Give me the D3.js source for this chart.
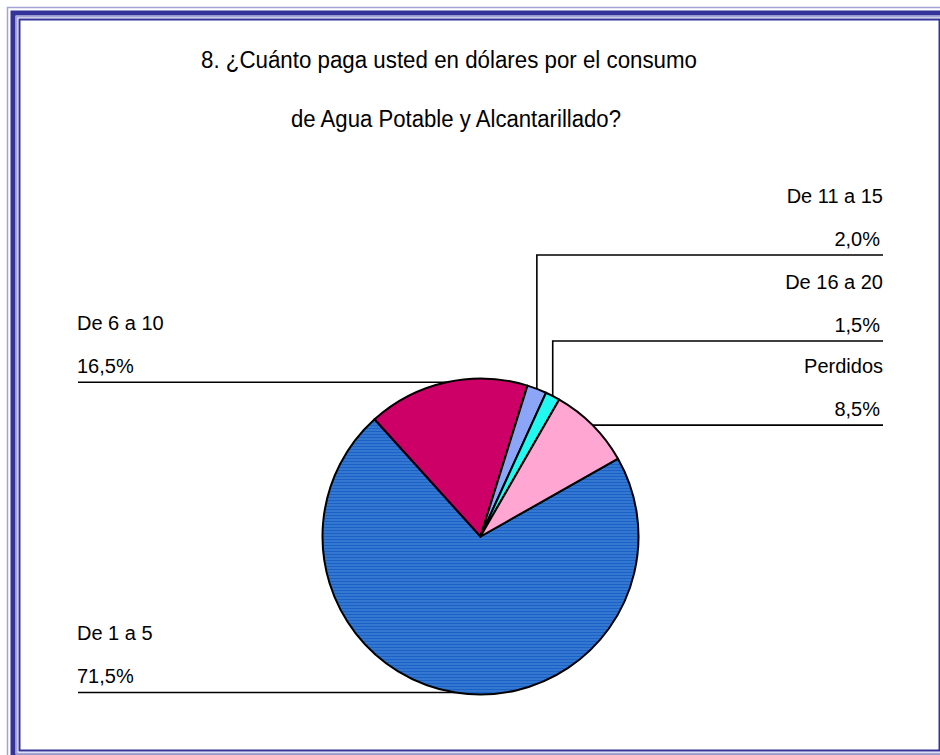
<!DOCTYPE html>
<html>
<head>
<meta charset="utf-8">
<script src="https://cdn.jsdelivr.net/npm/d3@7"></script>
<style>
	body { margin: 0; background: #fff; }
	text { font-family: "Liberation Sans", Arial, sans-serif; fill: #000; }
</style>
</head>
<body>
<div id="chart"></div>
<script>
// chart values
const categories = ["De 1 a 5", "De 6 a 10", "De 11 a 15", "De 16 a 20", "Perdidos"]
const percents = [71.5, 16.5, 2.0, 1.5, 8.5]
const pctLabels = ["71,5%", "16,5%", "2,0%", "1,5%", "8,5%"]
const titleLines = ["8. ¿Cuánto paga usted en dólares por el consumo", "de Agua Potable y Alcantarillado?"]

const colors = ["url(#blueStripes)", "#cc0066", "#8ca5f7", "#22f7f0", "#ffa6d2"]

// label placement: side of the chart and (for elbow leaders) the y of the label line
const labelLayout = [
	{ side: "left" },
	{ side: "left" },
	{ side: "right", lineY: 255 },
	{ side: "right", lineY: 341 },
	{ side: "right" }
]

const svgWidth = 940
const svgHeight = 755
const cx = 480.5
const cy = 536.5
const radius = 158
const leftX = 78
const rightX = 883

let svg = d3
	.select("#chart")
	.append("svg")
	.attr("width", svgWidth)
	.attr("height", svgHeight)

// striped fill for the big slice
let defs = svg.append("defs")
let pat = defs.append("pattern")
	.attr("id", "blueStripes")
	.attr("patternUnits", "userSpaceOnUse")
	.attr("width", 8)
	.attr("height", 3)
pat.append("rect").attr("width", 8).attr("height", 3).attr("fill", "#1a62c6")
pat.append("rect").attr("y", 1).attr("width", 8).attr("height", 1).attr("fill", "#4f8cda")

// frame (partly cropped at right and bottom)
let frame = svg.append("g").attr("fill", "none")
frame.append("rect").attr("x", 7.5).attr("y", 7.5).attr("width", 1000).attr("height", 1000)
	.attr("stroke", "#a3a3d6").attr("stroke-width", 1.5)
frame.append("rect").attr("x", 13).attr("y", 13).attr("width", 933).attr("height", 744)
	.attr("stroke", "#333399").attr("stroke-width", 5)
frame.append("rect").attr("x", 16.8).attr("y", 16.8).attr("width", 926).attr("height", 736.6)
	.attr("stroke", "#a3a3d6").attr("stroke-width", 1.5)
frame.append("rect").attr("x", 19.5).attr("y", 19.5).attr("width", 920).attr("height", 731)
	.attr("stroke", "#333399").attr("stroke-width", 2)

// title
let titleCenters = [449, 456]
let titleWidths = [496, 330]
let titleBaselines = [68, 127]
svg.append("g")
	.selectAll("text")
	.data(titleLines)
	.enter()
	.append("text")
	.attr("x", (d, i) => titleCenters[i] - titleWidths[i] / 2)
	.attr("y", (d, i) => titleBaselines[i])
	.attr("font-size", 23)
	.attr("textLength", (d, i) => titleWidths[i])
	.attr("lengthAdjust", "spacingAndGlyphs")
	.text(d => d)

// pie
let pie = d3.pie()
	.sort(null)
	.value(d => d)
	.startAngle(60.5 * Math.PI / 180)
	.endAngle(60.5 * Math.PI / 180 + 2 * Math.PI)

let arcs = pie(percents)

let arc = d3.arc().innerRadius(0).outerRadius(radius)

let pieGroup = svg.append("g").attr("transform", `translate(${cx}, ${cy})`)

pieGroup.selectAll("path")
	.data(arcs)
	.enter()
	.append("path")
	.attr("d", arc)
	.attr("fill", (d, i) => colors[i])
	.attr("stroke", "#000")
	.attr("stroke-width", 2)
	.attr("stroke-linejoin", "round")

// leader lines and labels
function anchor(d) {
	let a = (d.startAngle + d.endAngle) / 2
	return [cx + radius * Math.sin(a), cy - radius * Math.cos(a)]
}

let labels = svg.append("g")

arcs.forEach((d, i) => {
	let [ax, ay] = anchor(d)
	let lay = labelLayout[i]
	let lineY = lay.lineY !== undefined ? lay.lineY : ay
	let points
	if (lay.side === "left") {
		points = [[leftX, lineY], [ax, ay]]
	} else if (lay.lineY !== undefined) {
		points = [[rightX, lineY], [ax, lineY], [ax, ay]]
	} else {
		points = [[rightX, lineY], [ax, ay]]
	}
	labels.append("path")
		.attr("d", d3.line()(points))
		.attr("fill", "none")
		.attr("stroke", "#000")
		.attr("stroke-width", 1.6)

	let tx = lay.side === "left" ? leftX - 1 : rightX
	let anchorType = lay.side === "left" ? "start" : "end"
	labels.append("text")
		.attr("x", tx)
		.attr("y", lineY - 52)
		.attr("font-size", 20)
		.attr("text-anchor", anchorType)
		.text(categories[i])
	labels.append("text")
		.attr("x", lay.side === "left" ? tx : tx - 3)
		.attr("y", lineY - 9)
		.attr("font-size", 20)
		.attr("text-anchor", anchorType)
		.text(pctLabels[i])
})
</script>
</body>
</html>
